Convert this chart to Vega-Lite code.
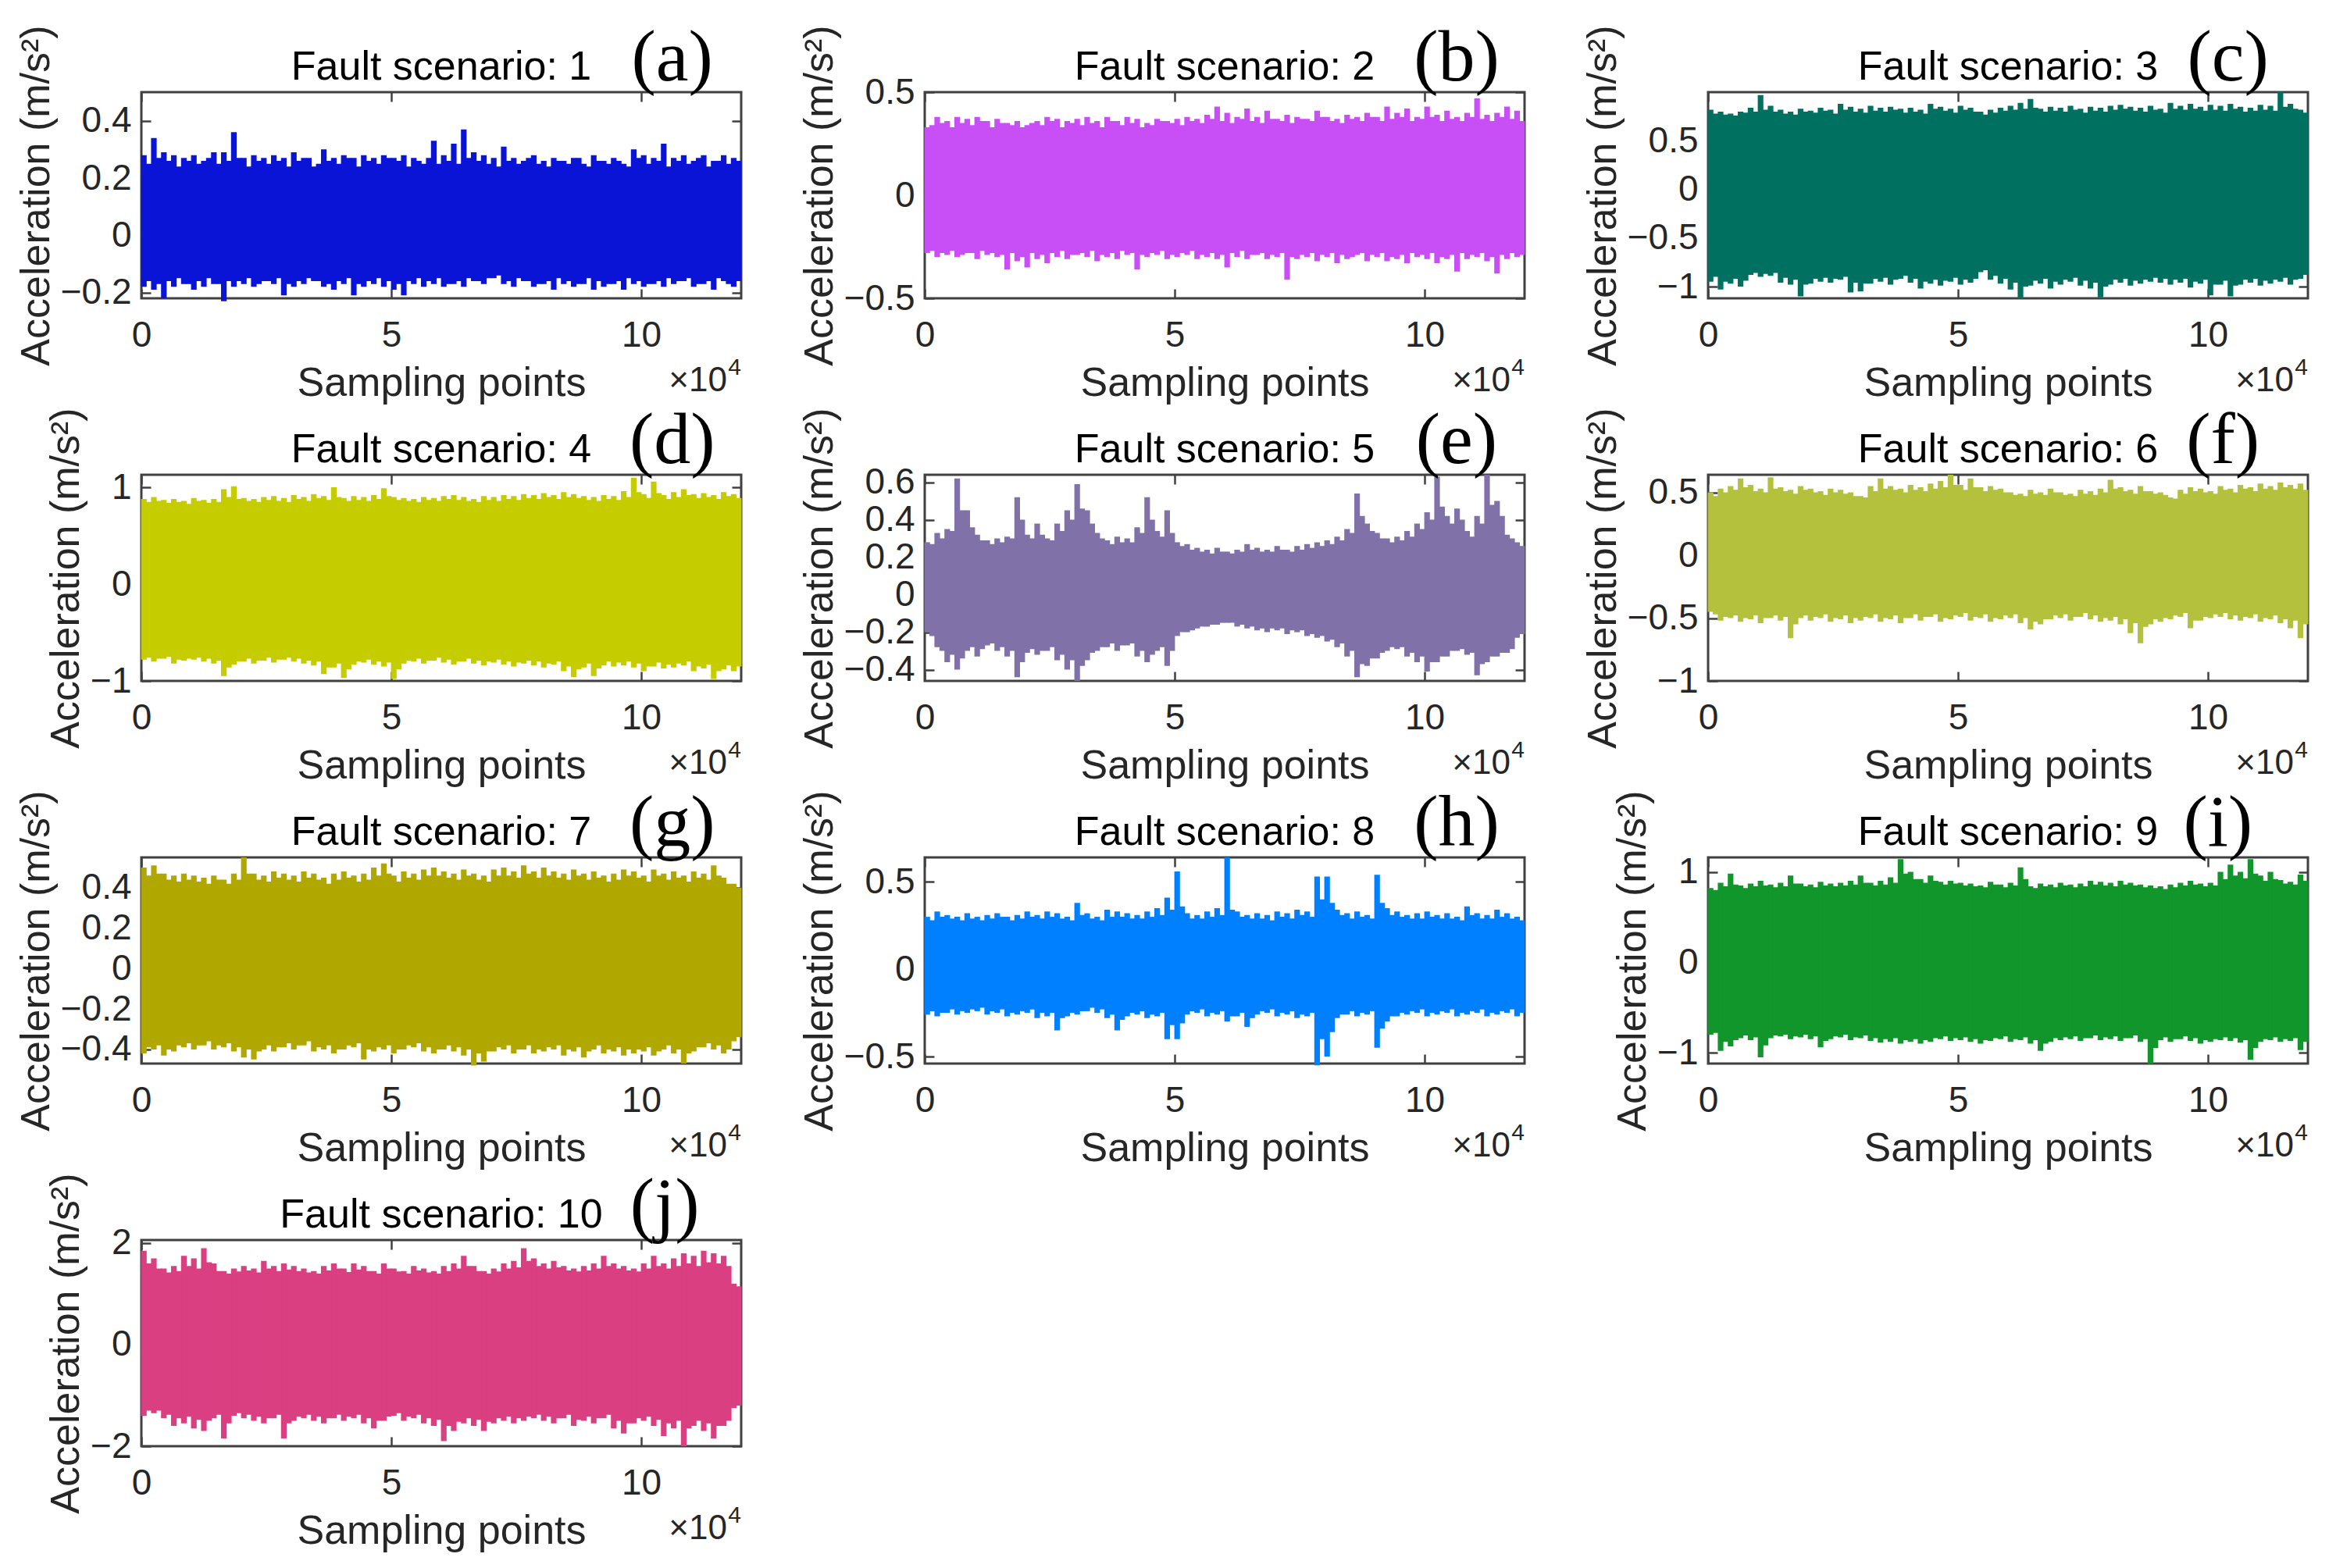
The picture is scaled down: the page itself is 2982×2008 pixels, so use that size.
{
"$schema":"https://vega.github.io/schema/vega-lite/v6.json",
"background":"white",
"padding":{"left":18,"top":26,"right":0,"bottom":0},
"columns":3,
"spacing":{"row":226,"column":235},
"bounds":"flush",
"config":{
"view":{"stroke":"#404040","strokeWidth":3},
"axis":{"grid":false,"domain":false,"tickColor":"#404040","tickWidth":2.5,"tickSize":-12,"labelFont":"Liberation Sans","labelFontSize":46,"labelColor":"#262626","titleFont":"Liberation Sans","titleFontSize":52,"titleFontWeight":"normal","titleColor":"#262626","labelFlush":false,"labelOverlap":false,"labelBound":false},
"axisX":{"labelPadding":37,"titlePadding":13,"format":"d"},
"axisY":{"labelPadding":25,"titlePadding":4,"format":"~g"},
"rule":{"strokeWidth":7.2,"strokeCap":"butt"},
"text":{"baseline":"alphabetic"}
},
"datasets":{
"d1":[{"x":0.1,"h":0.28,"l":-0.18,"a":0.25,"b":-0.16},{"x":0.3,"h":0.34,"l":-0.19,"a":0.27,"b":-0.17},{"x":0.5,"h":0.29,"l":-0.22,"a":0.26,"b":-0.16},{"x":0.7,"h":0.28,"l":-0.18,"a":0.24,"b":-0.15},{"x":0.9,"h":0.27,"l":-0.17,"a":0.26,"b":-0.17},{"x":1.1,"h":0.28,"l":-0.19,"a":0.25,"b":-0.16},{"x":1.3,"h":0.26,"l":-0.18,"a":0.27,"b":-0.15},{"x":1.5,"h":0.29,"l":-0.17,"a":0.25,"b":-0.17},{"x":1.7,"h":0.29,"l":-0.23,"a":0.26,"b":-0.16},{"x":1.9,"h":0.36,"l":-0.18,"a":0.27,"b":-0.16},{"x":2.1,"h":0.27,"l":-0.17,"a":0.24,"b":-0.15},{"x":2.3,"h":0.28,"l":-0.18,"a":0.26,"b":-0.17},{"x":2.5,"h":0.27,"l":-0.16,"a":0.25,"b":-0.16},{"x":2.7,"h":0.28,"l":-0.17,"a":0.26,"b":-0.15},{"x":2.9,"h":0.27,"l":-0.21,"a":0.24,"b":-0.17},{"x":3.1,"h":0.29,"l":-0.18,"a":0.26,"b":-0.16},{"x":3.3,"h":0.27,"l":-0.17,"a":0.27,"b":-0.15},{"x":3.5,"h":0.24,"l":-0.16,"a":0.25,"b":-0.16},{"x":3.7,"h":0.3,"l":-0.18,"a":0.26,"b":-0.17},{"x":3.9,"h":0.27,"l":-0.19,"a":0.25,"b":-0.16},{"x":4.1,"h":0.28,"l":-0.17,"a":0.27,"b":-0.15},{"x":4.3,"h":0.27,"l":-0.21,"a":0.24,"b":-0.17},{"x":4.5,"h":0.28,"l":-0.18,"a":0.26,"b":-0.16},{"x":4.7,"h":0.27,"l":-0.17,"a":0.25,"b":-0.15},{"x":4.9,"h":0.28,"l":-0.18,"a":0.27,"b":-0.16},{"x":5.1,"h":0.27,"l":-0.19,"a":0.26,"b":-0.17},{"x":5.3,"h":0.28,"l":-0.21,"a":0.24,"b":-0.16},{"x":5.5,"h":0.27,"l":-0.17,"a":0.26,"b":-0.15},{"x":5.7,"h":0.25,"l":-0.18,"a":0.27,"b":-0.16},{"x":5.9,"h":0.33,"l":-0.17,"a":0.25,"b":-0.15},{"x":6.1,"h":0.28,"l":-0.18,"a":0.26,"b":-0.17},{"x":6.3,"h":0.32,"l":-0.17,"a":0.25,"b":-0.16},{"x":6.5,"h":0.37,"l":-0.18,"a":0.27,"b":-0.15},{"x":6.7,"h":0.29,"l":-0.16,"a":0.26,"b":-0.16},{"x":6.9,"h":0.28,"l":-0.17,"a":0.25,"b":-0.15},{"x":7.1,"h":0.27,"l":-0.15,"a":0.24,"b":-0.14},{"x":7.3,"h":0.31,"l":-0.17,"a":0.26,"b":-0.16},{"x":7.5,"h":0.27,"l":-0.18,"a":0.25,"b":-0.15},{"x":7.7,"h":0.26,"l":-0.16,"a":0.27,"b":-0.16},{"x":7.9,"h":0.28,"l":-0.18,"a":0.25,"b":-0.17},{"x":8.1,"h":0.26,"l":-0.17,"a":0.24,"b":-0.16},{"x":8.3,"h":0.27,"l":-0.19,"a":0.26,"b":-0.15},{"x":8.5,"h":0.26,"l":-0.17,"a":0.25,"b":-0.16},{"x":8.7,"h":0.27,"l":-0.18,"a":0.27,"b":-0.17},{"x":8.9,"h":0.25,"l":-0.17,"a":0.24,"b":-0.15},{"x":9.1,"h":0.28,"l":-0.19,"a":0.26,"b":-0.16},{"x":9.3,"h":0.26,"l":-0.18,"a":0.25,"b":-0.17},{"x":9.5,"h":0.27,"l":-0.17,"a":0.26,"b":-0.16},{"x":9.7,"h":0.25,"l":-0.19,"a":0.24,"b":-0.15},{"x":9.9,"h":0.3,"l":-0.17,"a":0.27,"b":-0.16},{"x":10.1,"h":0.28,"l":-0.18,"a":0.25,"b":-0.17},{"x":10.3,"h":0.27,"l":-0.17,"a":0.26,"b":-0.16},{"x":10.5,"h":0.32,"l":-0.18,"a":0.24,"b":-0.15},{"x":10.7,"h":0.27,"l":-0.17,"a":0.26,"b":-0.16},{"x":10.9,"h":0.28,"l":-0.16,"a":0.25,"b":-0.15},{"x":11.1,"h":0.26,"l":-0.18,"a":0.27,"b":-0.17},{"x":11.3,"h":0.28,"l":-0.17,"a":0.24,"b":-0.16},{"x":11.5,"h":0.26,"l":-0.19,"a":0.26,"b":-0.15},{"x":11.7,"h":0.28,"l":-0.16,"a":0.25,"b":-0.17},{"x":11.9,"h":0.27,"l":-0.18,"a":0.26,"b":-0.16}],
"d2":[{"x":0.1,"h":0.33,"l":-0.28,"a":0.34,"b":-0.27},{"x":0.3,"h":0.38,"l":-0.3,"a":0.35,"b":-0.28},{"x":0.5,"h":0.36,"l":-0.29,"a":0.33,"b":-0.27},{"x":0.7,"h":0.38,"l":-0.3,"a":0.35,"b":-0.29},{"x":0.9,"h":0.37,"l":-0.28,"a":0.34,"b":-0.28},{"x":1.1,"h":0.38,"l":-0.31,"a":0.36,"b":-0.27},{"x":1.3,"h":0.36,"l":-0.29,"a":0.33,"b":-0.28},{"x":1.5,"h":0.37,"l":-0.3,"a":0.35,"b":-0.29},{"x":1.7,"h":0.35,"l":-0.36,"a":0.34,"b":-0.28},{"x":1.9,"h":0.36,"l":-0.32,"a":0.33,"b":-0.3},{"x":2.1,"h":0.34,"l":-0.35,"a":0.35,"b":-0.28},{"x":2.3,"h":0.36,"l":-0.31,"a":0.34,"b":-0.29},{"x":2.5,"h":0.38,"l":-0.33,"a":0.36,"b":-0.28},{"x":2.7,"h":0.37,"l":-0.3,"a":0.33,"b":-0.27},{"x":2.9,"h":0.36,"l":-0.31,"a":0.35,"b":-0.29},{"x":3.1,"h":0.37,"l":-0.29,"a":0.34,"b":-0.28},{"x":3.3,"h":0.38,"l":-0.3,"a":0.35,"b":-0.27},{"x":3.5,"h":0.36,"l":-0.32,"a":0.33,"b":-0.29},{"x":3.7,"h":0.38,"l":-0.3,"a":0.36,"b":-0.28},{"x":3.9,"h":0.36,"l":-0.31,"a":0.34,"b":-0.27},{"x":4.1,"h":0.38,"l":-0.29,"a":0.35,"b":-0.28},{"x":4.3,"h":0.37,"l":-0.36,"a":0.33,"b":-0.29},{"x":4.5,"h":0.35,"l":-0.3,"a":0.34,"b":-0.28},{"x":4.7,"h":0.37,"l":-0.29,"a":0.36,"b":-0.27},{"x":4.9,"h":0.36,"l":-0.31,"a":0.35,"b":-0.29},{"x":5.1,"h":0.37,"l":-0.3,"a":0.34,"b":-0.28},{"x":5.3,"h":0.38,"l":-0.29,"a":0.36,"b":-0.27},{"x":5.5,"h":0.37,"l":-0.31,"a":0.35,"b":-0.29},{"x":5.7,"h":0.39,"l":-0.3,"a":0.37,"b":-0.28},{"x":5.9,"h":0.43,"l":-0.31,"a":0.36,"b":-0.29},{"x":6.1,"h":0.4,"l":-0.35,"a":0.35,"b":-0.28},{"x":6.3,"h":0.38,"l":-0.3,"a":0.37,"b":-0.27},{"x":6.5,"h":0.42,"l":-0.31,"a":0.36,"b":-0.29},{"x":6.7,"h":0.38,"l":-0.29,"a":0.35,"b":-0.28},{"x":6.9,"h":0.41,"l":-0.31,"a":0.37,"b":-0.29},{"x":7.1,"h":0.37,"l":-0.3,"a":0.36,"b":-0.28},{"x":7.3,"h":0.39,"l":-0.41,"a":0.35,"b":-0.3},{"x":7.5,"h":0.38,"l":-0.31,"a":0.37,"b":-0.29},{"x":7.7,"h":0.37,"l":-0.3,"a":0.36,"b":-0.28},{"x":7.9,"h":0.41,"l":-0.32,"a":0.38,"b":-0.29},{"x":8.1,"h":0.38,"l":-0.3,"a":0.36,"b":-0.28},{"x":8.3,"h":0.37,"l":-0.33,"a":0.35,"b":-0.29},{"x":8.5,"h":0.39,"l":-0.31,"a":0.37,"b":-0.3},{"x":8.7,"h":0.38,"l":-0.29,"a":0.36,"b":-0.28},{"x":8.9,"h":0.4,"l":-0.32,"a":0.38,"b":-0.29},{"x":9.1,"h":0.38,"l":-0.3,"a":0.36,"b":-0.28},{"x":9.3,"h":0.43,"l":-0.32,"a":0.37,"b":-0.3},{"x":9.5,"h":0.4,"l":-0.31,"a":0.38,"b":-0.29},{"x":9.7,"h":0.42,"l":-0.33,"a":0.36,"b":-0.28},{"x":9.9,"h":0.38,"l":-0.3,"a":0.37,"b":-0.29},{"x":10.1,"h":0.43,"l":-0.31,"a":0.38,"b":-0.28},{"x":10.3,"h":0.39,"l":-0.33,"a":0.36,"b":-0.3},{"x":10.5,"h":0.41,"l":-0.31,"a":0.37,"b":-0.29},{"x":10.7,"h":0.38,"l":-0.37,"a":0.36,"b":-0.28},{"x":10.9,"h":0.4,"l":-0.31,"a":0.38,"b":-0.29},{"x":11.1,"h":0.47,"l":-0.3,"a":0.37,"b":-0.28},{"x":11.3,"h":0.39,"l":-0.32,"a":0.36,"b":-0.3},{"x":11.5,"h":0.4,"l":-0.38,"a":0.38,"b":-0.29},{"x":11.7,"h":0.43,"l":-0.31,"a":0.37,"b":-0.28},{"x":11.9,"h":0.41,"l":-0.3,"a":0.36,"b":-0.29}],
"d3":[{"x":0.1,"h":0.82,"l":-0.95,"a":0.78,"b":-0.9},{"x":0.3,"h":0.8,"l":-1.03,"a":0.77,"b":-0.95},{"x":0.5,"h":0.78,"l":-0.97,"a":0.76,"b":-0.92},{"x":0.7,"h":0.8,"l":-1.0,"a":0.79,"b":-0.94},{"x":0.9,"h":0.84,"l":-0.88,"a":0.8,"b":-0.86},{"x":1.1,"h":0.97,"l":-0.9,"a":0.82,"b":-0.87},{"x":1.3,"h":0.86,"l":-0.89,"a":0.8,"b":-0.86},{"x":1.5,"h":0.82,"l":-0.96,"a":0.78,"b":-0.91},{"x":1.7,"h":0.8,"l":-0.98,"a":0.77,"b":-0.93},{"x":1.9,"h":0.83,"l":-1.1,"a":0.8,"b":-0.98},{"x":2.1,"h":0.81,"l":-0.97,"a":0.79,"b":-0.92},{"x":2.3,"h":0.84,"l":-0.95,"a":0.81,"b":-0.91},{"x":2.5,"h":0.82,"l":-0.96,"a":0.78,"b":-0.92},{"x":2.7,"h":0.88,"l":-0.93,"a":0.82,"b":-0.9},{"x":2.9,"h":0.85,"l":-1.06,"a":0.8,"b":-0.96},{"x":3.1,"h":0.83,"l":-1.05,"a":0.79,"b":-0.97},{"x":3.3,"h":0.86,"l":-0.97,"a":0.81,"b":-0.92},{"x":3.5,"h":0.84,"l":-0.95,"a":0.8,"b":-0.91},{"x":3.7,"h":0.85,"l":-0.98,"a":0.82,"b":-0.93},{"x":3.9,"h":0.83,"l":-0.92,"a":0.79,"b":-0.89},{"x":4.1,"h":0.84,"l":-0.96,"a":0.8,"b":-0.92},{"x":4.3,"h":0.82,"l":-1.02,"a":0.78,"b":-0.95},{"x":4.5,"h":0.88,"l":-0.97,"a":0.83,"b":-0.93},{"x":4.7,"h":0.85,"l":-0.99,"a":0.81,"b":-0.94},{"x":4.9,"h":0.83,"l":-0.95,"a":0.79,"b":-0.91},{"x":5.1,"h":0.86,"l":-0.98,"a":0.82,"b":-0.93},{"x":5.3,"h":0.84,"l":-0.96,"a":0.8,"b":-0.92},{"x":5.5,"h":0.8,"l":-0.85,"a":0.77,"b":-0.83},{"x":5.7,"h":0.82,"l":-0.93,"a":0.79,"b":-0.89},{"x":5.9,"h":0.84,"l":-0.97,"a":0.81,"b":-0.92},{"x":6.1,"h":0.86,"l":-1.03,"a":0.82,"b":-0.96},{"x":6.3,"h":0.89,"l":-1.12,"a":0.83,"b":-1.0},{"x":6.5,"h":0.93,"l":-0.99,"a":0.84,"b":-0.94},{"x":6.7,"h":0.83,"l":-0.97,"a":0.8,"b":-0.92},{"x":6.9,"h":0.85,"l":-1.02,"a":0.81,"b":-0.95},{"x":7.1,"h":0.84,"l":-0.98,"a":0.8,"b":-0.93},{"x":7.3,"h":0.86,"l":-0.95,"a":0.82,"b":-0.91},{"x":7.5,"h":0.83,"l":-0.99,"a":0.79,"b":-0.94},{"x":7.7,"h":0.85,"l":-1.02,"a":0.81,"b":-0.96},{"x":7.9,"h":0.84,"l":-1.11,"a":0.8,"b":-1.0},{"x":8.1,"h":0.86,"l":-0.98,"a":0.82,"b":-0.93},{"x":8.3,"h":0.87,"l":-0.96,"a":0.83,"b":-0.92},{"x":8.5,"h":0.85,"l":-0.99,"a":0.81,"b":-0.94},{"x":8.7,"h":0.84,"l":-0.97,"a":0.8,"b":-0.93},{"x":8.9,"h":0.86,"l":-0.95,"a":0.82,"b":-0.91},{"x":9.1,"h":0.83,"l":-0.96,"a":0.79,"b":-0.92},{"x":9.3,"h":0.89,"l":-0.98,"a":0.83,"b":-0.93},{"x":9.5,"h":0.86,"l":-0.96,"a":0.82,"b":-0.92},{"x":9.7,"h":0.88,"l":-1.01,"a":0.83,"b":-0.95},{"x":9.9,"h":0.85,"l":-0.97,"a":0.81,"b":-0.93},{"x":10.1,"h":0.87,"l":-1.09,"a":0.82,"b":-0.98},{"x":10.3,"h":0.86,"l":-0.98,"a":0.81,"b":-0.94},{"x":10.5,"h":0.88,"l":-1.1,"a":0.83,"b":-0.99},{"x":10.7,"h":0.85,"l":-0.98,"a":0.8,"b":-0.93},{"x":10.9,"h":0.84,"l":-0.96,"a":0.81,"b":-0.92},{"x":11.1,"h":0.87,"l":-0.99,"a":0.82,"b":-0.94},{"x":11.3,"h":0.86,"l":-0.97,"a":0.81,"b":-0.93},{"x":11.5,"h":1.0,"l":-0.95,"a":0.85,"b":-0.91},{"x":11.7,"h":0.88,"l":-0.98,"a":0.83,"b":-0.93},{"x":11.9,"h":0.82,"l":-0.92,"a":0.79,"b":-0.88}],
"d4":[{"x":0.1,"h":0.88,"l":-0.78,"a":0.85,"b":-0.76},{"x":0.3,"h":0.9,"l":-0.8,"a":0.86,"b":-0.77},{"x":0.5,"h":0.87,"l":-0.77,"a":0.84,"b":-0.75},{"x":0.7,"h":0.88,"l":-0.82,"a":0.85,"b":-0.78},{"x":0.9,"h":0.86,"l":-0.79,"a":0.83,"b":-0.77},{"x":1.1,"h":0.89,"l":-0.78,"a":0.86,"b":-0.76},{"x":1.3,"h":0.87,"l":-0.8,"a":0.84,"b":-0.77},{"x":1.5,"h":0.88,"l":-0.82,"a":0.85,"b":-0.79},{"x":1.7,"h":0.98,"l":-0.95,"a":0.9,"b":-0.86},{"x":1.9,"h":1.01,"l":-0.83,"a":0.88,"b":-0.8},{"x":2.1,"h":0.89,"l":-0.8,"a":0.86,"b":-0.77},{"x":2.3,"h":0.88,"l":-0.82,"a":0.85,"b":-0.79},{"x":2.5,"h":0.9,"l":-0.79,"a":0.87,"b":-0.76},{"x":2.7,"h":0.91,"l":-0.81,"a":0.86,"b":-0.78},{"x":2.9,"h":0.89,"l":-0.78,"a":0.85,"b":-0.76},{"x":3.1,"h":0.92,"l":-0.8,"a":0.88,"b":-0.77},{"x":3.3,"h":0.9,"l":-0.82,"a":0.86,"b":-0.79},{"x":3.5,"h":0.93,"l":-0.84,"a":0.89,"b":-0.8},{"x":3.7,"h":0.91,"l":-0.93,"a":0.87,"b":-0.86},{"x":3.9,"h":1.0,"l":-0.86,"a":0.9,"b":-0.82},{"x":4.1,"h":0.89,"l":-0.97,"a":0.86,"b":-0.88},{"x":4.3,"h":0.91,"l":-0.83,"a":0.87,"b":-0.8},{"x":4.5,"h":0.9,"l":-0.81,"a":0.86,"b":-0.78},{"x":4.7,"h":0.92,"l":-0.83,"a":0.88,"b":-0.8},{"x":4.9,"h":0.99,"l":-0.85,"a":0.91,"b":-0.81},{"x":5.1,"h":0.9,"l":-0.98,"a":0.87,"b":-0.88},{"x":5.3,"h":0.89,"l":-0.82,"a":0.86,"b":-0.79},{"x":5.5,"h":0.88,"l":-0.8,"a":0.85,"b":-0.77},{"x":5.7,"h":0.9,"l":-0.82,"a":0.87,"b":-0.79},{"x":5.9,"h":0.89,"l":-0.79,"a":0.86,"b":-0.76},{"x":6.1,"h":0.91,"l":-0.81,"a":0.88,"b":-0.78},{"x":6.3,"h":0.92,"l":-0.83,"a":0.87,"b":-0.8},{"x":6.5,"h":0.9,"l":-0.8,"a":0.86,"b":-0.77},{"x":6.7,"h":0.88,"l":-0.82,"a":0.85,"b":-0.79},{"x":6.9,"h":0.91,"l":-0.84,"a":0.87,"b":-0.8},{"x":7.1,"h":0.9,"l":-0.81,"a":0.86,"b":-0.78},{"x":7.3,"h":0.92,"l":-0.83,"a":0.88,"b":-0.8},{"x":7.5,"h":0.91,"l":-0.85,"a":0.87,"b":-0.81},{"x":7.7,"h":0.93,"l":-0.82,"a":0.89,"b":-0.79},{"x":7.9,"h":0.92,"l":-0.84,"a":0.88,"b":-0.8},{"x":8.1,"h":0.94,"l":-0.86,"a":0.9,"b":-0.82},{"x":8.3,"h":0.92,"l":-0.83,"a":0.88,"b":-0.8},{"x":8.5,"h":0.95,"l":-0.9,"a":0.9,"b":-0.85},{"x":8.7,"h":0.93,"l":-0.96,"a":0.89,"b":-0.88},{"x":8.9,"h":0.91,"l":-0.86,"a":0.87,"b":-0.82},{"x":9.1,"h":0.9,"l":-0.95,"a":0.86,"b":-0.87},{"x":9.3,"h":0.92,"l":-0.84,"a":0.88,"b":-0.8},{"x":9.5,"h":0.91,"l":-0.85,"a":0.87,"b":-0.81},{"x":9.7,"h":0.96,"l":-0.84,"a":0.9,"b":-0.8},{"x":9.9,"h":1.1,"l":-0.86,"a":0.95,"b":-0.82},{"x":10.1,"h":0.93,"l":-0.9,"a":0.89,"b":-0.85},{"x":10.3,"h":1.06,"l":-0.85,"a":0.94,"b":-0.81},{"x":10.5,"h":0.92,"l":-0.87,"a":0.88,"b":-0.83},{"x":10.7,"h":0.95,"l":-0.86,"a":0.9,"b":-0.82},{"x":10.9,"h":0.98,"l":-0.84,"a":0.92,"b":-0.8},{"x":11.1,"h":0.93,"l":-0.9,"a":0.89,"b":-0.85},{"x":11.3,"h":0.94,"l":-0.87,"a":0.9,"b":-0.83},{"x":11.5,"h":0.92,"l":-0.98,"a":0.88,"b":-0.9},{"x":11.7,"h":0.95,"l":-0.88,"a":0.91,"b":-0.84},{"x":11.9,"h":0.93,"l":-0.9,"a":0.89,"b":-0.85}],
"d5":[{"x":0.1,"h":0.28,"l":-0.2,"a":0.27,"b":-0.22},{"x":0.3,"h":0.33,"l":-0.28,"a":0.3,"b":-0.3},{"x":0.5,"h":0.35,"l":-0.36,"a":0.34,"b":-0.32},{"x":0.7,"h":0.62,"l":-0.4,"a":0.45,"b":-0.34},{"x":0.9,"h":0.45,"l":-0.3,"a":0.36,"b":-0.28},{"x":1.1,"h":0.32,"l":-0.33,"a":0.29,"b":-0.29},{"x":1.3,"h":0.29,"l":-0.27,"a":0.27,"b":-0.26},{"x":1.5,"h":0.3,"l":-0.3,"a":0.28,"b":-0.28},{"x":1.7,"h":0.31,"l":-0.33,"a":0.3,"b":-0.3},{"x":1.9,"h":0.52,"l":-0.44,"a":0.4,"b":-0.36},{"x":2.1,"h":0.32,"l":-0.31,"a":0.3,"b":-0.29},{"x":2.3,"h":0.38,"l":-0.32,"a":0.32,"b":-0.3},{"x":2.5,"h":0.3,"l":-0.3,"a":0.29,"b":-0.28},{"x":2.7,"h":0.38,"l":-0.35,"a":0.34,"b":-0.32},{"x":2.9,"h":0.45,"l":-0.4,"a":0.4,"b":-0.35},{"x":3.1,"h":0.59,"l":-0.46,"a":0.46,"b":-0.38},{"x":3.3,"h":0.45,"l":-0.35,"a":0.38,"b":-0.31},{"x":3.5,"h":0.33,"l":-0.3,"a":0.3,"b":-0.28},{"x":3.7,"h":0.29,"l":-0.28,"a":0.27,"b":-0.26},{"x":3.9,"h":0.31,"l":-0.3,"a":0.28,"b":-0.27},{"x":4.1,"h":0.3,"l":-0.27,"a":0.28,"b":-0.26},{"x":4.3,"h":0.36,"l":-0.33,"a":0.33,"b":-0.3},{"x":4.5,"h":0.52,"l":-0.36,"a":0.4,"b":-0.32},{"x":4.7,"h":0.34,"l":-0.3,"a":0.31,"b":-0.28},{"x":4.9,"h":0.45,"l":-0.38,"a":0.33,"b":-0.3},{"x":5.1,"h":0.28,"l":-0.22,"a":0.26,"b":-0.2},{"x":5.3,"h":0.27,"l":-0.2,"a":0.24,"b":-0.19},{"x":5.5,"h":0.25,"l":-0.18,"a":0.23,"b":-0.17},{"x":5.7,"h":0.24,"l":-0.17,"a":0.22,"b":-0.16},{"x":5.9,"h":0.25,"l":-0.16,"a":0.23,"b":-0.15},{"x":6.1,"h":0.23,"l":-0.15,"a":0.22,"b":-0.15},{"x":6.3,"h":0.24,"l":-0.17,"a":0.23,"b":-0.16},{"x":6.5,"h":0.27,"l":-0.18,"a":0.24,"b":-0.17},{"x":6.7,"h":0.25,"l":-0.19,"a":0.23,"b":-0.18},{"x":6.9,"h":0.24,"l":-0.2,"a":0.23,"b":-0.18},{"x":7.1,"h":0.26,"l":-0.19,"a":0.24,"b":-0.18},{"x":7.3,"h":0.24,"l":-0.21,"a":0.23,"b":-0.19},{"x":7.5,"h":0.26,"l":-0.2,"a":0.24,"b":-0.19},{"x":7.7,"h":0.27,"l":-0.22,"a":0.25,"b":-0.21},{"x":7.9,"h":0.28,"l":-0.23,"a":0.26,"b":-0.22},{"x":8.1,"h":0.29,"l":-0.25,"a":0.27,"b":-0.24},{"x":8.3,"h":0.31,"l":-0.28,"a":0.29,"b":-0.26},{"x":8.5,"h":0.35,"l":-0.33,"a":0.33,"b":-0.3},{"x":8.7,"h":0.54,"l":-0.44,"a":0.42,"b":-0.37},{"x":8.9,"h":0.38,"l":-0.38,"a":0.34,"b":-0.34},{"x":9.1,"h":0.33,"l":-0.34,"a":0.3,"b":-0.31},{"x":9.3,"h":0.3,"l":-0.3,"a":0.28,"b":-0.28},{"x":9.5,"h":0.31,"l":-0.29,"a":0.29,"b":-0.28},{"x":9.7,"h":0.34,"l":-0.33,"a":0.31,"b":-0.31},{"x":9.9,"h":0.38,"l":-0.36,"a":0.35,"b":-0.33},{"x":10.1,"h":0.44,"l":-0.41,"a":0.4,"b":-0.36},{"x":10.3,"h":0.63,"l":-0.36,"a":0.47,"b":-0.33},{"x":10.5,"h":0.42,"l":-0.33,"a":0.38,"b":-0.3},{"x":10.7,"h":0.46,"l":-0.3,"a":0.4,"b":-0.29},{"x":10.9,"h":0.34,"l":-0.32,"a":0.31,"b":-0.31},{"x":11.1,"h":0.42,"l":-0.43,"a":0.38,"b":-0.37},{"x":11.3,"h":0.64,"l":-0.36,"a":0.48,"b":-0.33},{"x":11.5,"h":0.5,"l":-0.33,"a":0.42,"b":-0.31},{"x":11.7,"h":0.32,"l":-0.31,"a":0.3,"b":-0.29},{"x":11.9,"h":0.28,"l":-0.23,"a":0.26,"b":-0.21}],
"d6":[{"x":0.1,"h":0.5,"l":-0.45,"a":0.47,"b":-0.47},{"x":0.3,"h":0.53,"l":-0.52,"a":0.5,"b":-0.49},{"x":0.5,"h":0.55,"l":-0.5,"a":0.52,"b":-0.48},{"x":0.7,"h":0.61,"l":-0.53,"a":0.54,"b":-0.5},{"x":0.9,"h":0.56,"l":-0.51,"a":0.51,"b":-0.48},{"x":1.1,"h":0.53,"l":-0.54,"a":0.5,"b":-0.5},{"x":1.3,"h":0.62,"l":-0.5,"a":0.53,"b":-0.48},{"x":1.5,"h":0.54,"l":-0.52,"a":0.51,"b":-0.49},{"x":1.7,"h":0.52,"l":-0.66,"a":0.49,"b":-0.55},{"x":1.9,"h":0.55,"l":-0.5,"a":0.52,"b":-0.48},{"x":2.1,"h":0.53,"l":-0.52,"a":0.5,"b":-0.49},{"x":2.3,"h":0.51,"l":-0.5,"a":0.48,"b":-0.47},{"x":2.5,"h":0.53,"l":-0.53,"a":0.5,"b":-0.5},{"x":2.7,"h":0.52,"l":-0.51,"a":0.49,"b":-0.48},{"x":2.9,"h":0.5,"l":-0.54,"a":0.47,"b":-0.5},{"x":3.1,"h":0.47,"l":-0.52,"a":0.46,"b":-0.49},{"x":3.3,"h":0.55,"l":-0.5,"a":0.51,"b":-0.47},{"x":3.5,"h":0.61,"l":-0.53,"a":0.53,"b":-0.5},{"x":3.7,"h":0.55,"l":-0.51,"a":0.52,"b":-0.48},{"x":3.9,"h":0.53,"l":-0.54,"a":0.5,"b":-0.5},{"x":4.1,"h":0.56,"l":-0.5,"a":0.52,"b":-0.47},{"x":4.3,"h":0.54,"l":-0.52,"a":0.51,"b":-0.49},{"x":4.5,"h":0.57,"l":-0.49,"a":0.53,"b":-0.47},{"x":4.7,"h":0.59,"l":-0.53,"a":0.54,"b":-0.5},{"x":4.9,"h":0.64,"l":-0.51,"a":0.56,"b":-0.48},{"x":5.1,"h":0.56,"l":-0.49,"a":0.52,"b":-0.46},{"x":5.3,"h":0.61,"l":-0.52,"a":0.54,"b":-0.49},{"x":5.5,"h":0.54,"l":-0.5,"a":0.51,"b":-0.47},{"x":5.7,"h":0.55,"l":-0.53,"a":0.52,"b":-0.5},{"x":5.9,"h":0.53,"l":-0.51,"a":0.5,"b":-0.48},{"x":6.1,"h":0.5,"l":-0.5,"a":0.48,"b":-0.47},{"x":6.3,"h":0.49,"l":-0.54,"a":0.47,"b":-0.5},{"x":6.5,"h":0.52,"l":-0.59,"a":0.49,"b":-0.53},{"x":6.7,"h":0.5,"l":-0.55,"a":0.48,"b":-0.51},{"x":6.9,"h":0.53,"l":-0.51,"a":0.5,"b":-0.48},{"x":7.1,"h":0.5,"l":-0.5,"a":0.48,"b":-0.47},{"x":7.3,"h":0.49,"l":-0.52,"a":0.47,"b":-0.49},{"x":7.5,"h":0.52,"l":-0.49,"a":0.49,"b":-0.46},{"x":7.7,"h":0.51,"l":-0.51,"a":0.48,"b":-0.48},{"x":7.9,"h":0.53,"l":-0.53,"a":0.5,"b":-0.5},{"x":8.1,"h":0.6,"l":-0.52,"a":0.53,"b":-0.49},{"x":8.3,"h":0.54,"l":-0.55,"a":0.51,"b":-0.51},{"x":8.5,"h":0.52,"l":-0.62,"a":0.49,"b":-0.54},{"x":8.7,"h":0.55,"l":-0.7,"a":0.51,"b":-0.57},{"x":8.9,"h":0.51,"l":-0.55,"a":0.49,"b":-0.51},{"x":9.1,"h":0.5,"l":-0.53,"a":0.48,"b":-0.5},{"x":9.3,"h":0.46,"l":-0.51,"a":0.45,"b":-0.48},{"x":9.5,"h":0.52,"l":-0.49,"a":0.49,"b":-0.46},{"x":9.7,"h":0.54,"l":-0.58,"a":0.51,"b":-0.52},{"x":9.9,"h":0.53,"l":-0.52,"a":0.5,"b":-0.49},{"x":10.1,"h":0.51,"l":-0.5,"a":0.49,"b":-0.47},{"x":10.3,"h":0.55,"l":-0.49,"a":0.52,"b":-0.46},{"x":10.5,"h":0.53,"l":-0.51,"a":0.5,"b":-0.48},{"x":10.7,"h":0.56,"l":-0.52,"a":0.53,"b":-0.49},{"x":10.9,"h":0.54,"l":-0.5,"a":0.51,"b":-0.47},{"x":11.1,"h":0.57,"l":-0.53,"a":0.53,"b":-0.5},{"x":11.3,"h":0.55,"l":-0.51,"a":0.52,"b":-0.48},{"x":11.5,"h":0.58,"l":-0.54,"a":0.54,"b":-0.51},{"x":11.7,"h":0.56,"l":-0.58,"a":0.53,"b":-0.52},{"x":11.9,"h":0.57,"l":-0.66,"a":0.52,"b":-0.55}],
"d7":[{"x":0.1,"h":0.5,"l":-0.42,"a":0.46,"b":-0.39},{"x":0.3,"h":0.51,"l":-0.4,"a":0.47,"b":-0.38},{"x":0.5,"h":0.47,"l":-0.43,"a":0.44,"b":-0.4},{"x":0.7,"h":0.46,"l":-0.41,"a":0.43,"b":-0.38},{"x":0.9,"h":0.47,"l":-0.39,"a":0.44,"b":-0.37},{"x":1.1,"h":0.46,"l":-0.4,"a":0.43,"b":-0.38},{"x":1.3,"h":0.45,"l":-0.38,"a":0.42,"b":-0.36},{"x":1.5,"h":0.46,"l":-0.4,"a":0.44,"b":-0.38},{"x":1.7,"h":0.44,"l":-0.39,"a":0.42,"b":-0.37},{"x":1.9,"h":0.47,"l":-0.41,"a":0.44,"b":-0.39},{"x":2.1,"h":0.55,"l":-0.44,"a":0.47,"b":-0.4},{"x":2.3,"h":0.47,"l":-0.45,"a":0.44,"b":-0.41},{"x":2.5,"h":0.46,"l":-0.4,"a":0.43,"b":-0.38},{"x":2.7,"h":0.48,"l":-0.41,"a":0.45,"b":-0.39},{"x":2.9,"h":0.47,"l":-0.39,"a":0.44,"b":-0.37},{"x":3.1,"h":0.46,"l":-0.4,"a":0.43,"b":-0.38},{"x":3.3,"h":0.48,"l":-0.38,"a":0.45,"b":-0.36},{"x":3.5,"h":0.47,"l":-0.41,"a":0.44,"b":-0.39},{"x":3.7,"h":0.45,"l":-0.4,"a":0.42,"b":-0.38},{"x":3.9,"h":0.47,"l":-0.42,"a":0.44,"b":-0.4},{"x":4.1,"h":0.48,"l":-0.4,"a":0.45,"b":-0.38},{"x":4.3,"h":0.46,"l":-0.39,"a":0.43,"b":-0.37},{"x":4.5,"h":0.47,"l":-0.45,"a":0.44,"b":-0.4},{"x":4.7,"h":0.5,"l":-0.41,"a":0.46,"b":-0.39},{"x":4.9,"h":0.52,"l":-0.4,"a":0.47,"b":-0.38},{"x":5.1,"h":0.46,"l":-0.42,"a":0.43,"b":-0.4},{"x":5.3,"h":0.48,"l":-0.4,"a":0.45,"b":-0.38},{"x":5.5,"h":0.47,"l":-0.39,"a":0.44,"b":-0.37},{"x":5.7,"h":0.49,"l":-0.41,"a":0.46,"b":-0.39},{"x":5.9,"h":0.5,"l":-0.42,"a":0.46,"b":-0.4},{"x":6.1,"h":0.48,"l":-0.4,"a":0.45,"b":-0.38},{"x":6.3,"h":0.47,"l":-0.41,"a":0.44,"b":-0.39},{"x":6.5,"h":0.49,"l":-0.43,"a":0.46,"b":-0.4},{"x":6.7,"h":0.47,"l":-0.48,"a":0.44,"b":-0.42},{"x":6.9,"h":0.46,"l":-0.46,"a":0.43,"b":-0.41},{"x":7.1,"h":0.49,"l":-0.41,"a":0.46,"b":-0.39},{"x":7.3,"h":0.5,"l":-0.4,"a":0.46,"b":-0.38},{"x":7.5,"h":0.48,"l":-0.42,"a":0.45,"b":-0.4},{"x":7.7,"h":0.51,"l":-0.4,"a":0.47,"b":-0.38},{"x":7.9,"h":0.48,"l":-0.42,"a":0.45,"b":-0.4},{"x":8.1,"h":0.5,"l":-0.41,"a":0.46,"b":-0.39},{"x":8.3,"h":0.48,"l":-0.4,"a":0.45,"b":-0.38},{"x":8.5,"h":0.47,"l":-0.43,"a":0.44,"b":-0.4},{"x":8.7,"h":0.49,"l":-0.41,"a":0.46,"b":-0.39},{"x":8.9,"h":0.47,"l":-0.44,"a":0.44,"b":-0.41},{"x":9.1,"h":0.48,"l":-0.4,"a":0.45,"b":-0.38},{"x":9.3,"h":0.46,"l":-0.42,"a":0.43,"b":-0.4},{"x":9.5,"h":0.47,"l":-0.41,"a":0.44,"b":-0.39},{"x":9.7,"h":0.49,"l":-0.43,"a":0.46,"b":-0.4},{"x":9.9,"h":0.48,"l":-0.42,"a":0.45,"b":-0.4},{"x":10.1,"h":0.46,"l":-0.41,"a":0.43,"b":-0.39},{"x":10.3,"h":0.49,"l":-0.43,"a":0.46,"b":-0.41},{"x":10.5,"h":0.47,"l":-0.4,"a":0.44,"b":-0.38},{"x":10.7,"h":0.48,"l":-0.42,"a":0.45,"b":-0.4},{"x":10.9,"h":0.46,"l":-0.47,"a":0.43,"b":-0.42},{"x":11.1,"h":0.48,"l":-0.41,"a":0.45,"b":-0.39},{"x":11.3,"h":0.47,"l":-0.39,"a":0.44,"b":-0.37},{"x":11.5,"h":0.51,"l":-0.4,"a":0.46,"b":-0.38},{"x":11.7,"h":0.45,"l":-0.42,"a":0.42,"b":-0.4},{"x":11.9,"h":0.42,"l":-0.36,"a":0.4,"b":-0.34}],
"d8":[{"x":0.1,"h":0.3,"l":-0.26,"a":0.28,"b":-0.24},{"x":0.3,"h":0.33,"l":-0.27,"a":0.3,"b":-0.25},{"x":0.5,"h":0.31,"l":-0.25,"a":0.29,"b":-0.23},{"x":0.7,"h":0.3,"l":-0.26,"a":0.28,"b":-0.24},{"x":0.9,"h":0.32,"l":-0.25,"a":0.29,"b":-0.23},{"x":1.1,"h":0.3,"l":-0.24,"a":0.28,"b":-0.22},{"x":1.3,"h":0.31,"l":-0.26,"a":0.29,"b":-0.24},{"x":1.5,"h":0.32,"l":-0.25,"a":0.3,"b":-0.23},{"x":1.7,"h":0.3,"l":-0.27,"a":0.28,"b":-0.25},{"x":1.9,"h":0.31,"l":-0.26,"a":0.29,"b":-0.24},{"x":2.1,"h":0.33,"l":-0.25,"a":0.3,"b":-0.23},{"x":2.3,"h":0.31,"l":-0.28,"a":0.29,"b":-0.25},{"x":2.5,"h":0.33,"l":-0.27,"a":0.3,"b":-0.25},{"x":2.7,"h":0.32,"l":-0.35,"a":0.29,"b":-0.28},{"x":2.9,"h":0.3,"l":-0.27,"a":0.28,"b":-0.25},{"x":3.1,"h":0.38,"l":-0.26,"a":0.31,"b":-0.24},{"x":3.3,"h":0.32,"l":-0.24,"a":0.29,"b":-0.22},{"x":3.5,"h":0.3,"l":-0.25,"a":0.28,"b":-0.23},{"x":3.7,"h":0.34,"l":-0.28,"a":0.3,"b":-0.26},{"x":3.9,"h":0.33,"l":-0.35,"a":0.3,"b":-0.29},{"x":4.1,"h":0.32,"l":-0.27,"a":0.29,"b":-0.25},{"x":4.3,"h":0.31,"l":-0.26,"a":0.29,"b":-0.24},{"x":4.5,"h":0.33,"l":-0.28,"a":0.3,"b":-0.26},{"x":4.7,"h":0.35,"l":-0.27,"a":0.31,"b":-0.25},{"x":4.9,"h":0.41,"l":-0.4,"a":0.34,"b":-0.32},{"x":5.1,"h":0.56,"l":-0.4,"a":0.36,"b":-0.31},{"x":5.3,"h":0.32,"l":-0.26,"a":0.29,"b":-0.24},{"x":5.5,"h":0.31,"l":-0.25,"a":0.29,"b":-0.23},{"x":5.7,"h":0.33,"l":-0.27,"a":0.3,"b":-0.25},{"x":5.9,"h":0.35,"l":-0.26,"a":0.31,"b":-0.24},{"x":6.1,"h":0.64,"l":-0.3,"a":0.34,"b":-0.27},{"x":6.3,"h":0.33,"l":-0.27,"a":0.3,"b":-0.25},{"x":6.5,"h":0.31,"l":-0.33,"a":0.29,"b":-0.28},{"x":6.7,"h":0.32,"l":-0.26,"a":0.29,"b":-0.24},{"x":6.9,"h":0.31,"l":-0.25,"a":0.28,"b":-0.23},{"x":7.1,"h":0.33,"l":-0.27,"a":0.3,"b":-0.25},{"x":7.3,"h":0.32,"l":-0.26,"a":0.29,"b":-0.24},{"x":7.5,"h":0.34,"l":-0.28,"a":0.31,"b":-0.26},{"x":7.7,"h":0.33,"l":-0.27,"a":0.3,"b":-0.25},{"x":7.9,"h":0.53,"l":-0.55,"a":0.4,"b":-0.4},{"x":8.1,"h":0.53,"l":-0.5,"a":0.38,"b":-0.36},{"x":8.3,"h":0.34,"l":-0.28,"a":0.31,"b":-0.26},{"x":8.5,"h":0.32,"l":-0.26,"a":0.29,"b":-0.24},{"x":8.7,"h":0.33,"l":-0.27,"a":0.3,"b":-0.25},{"x":8.9,"h":0.31,"l":-0.26,"a":0.29,"b":-0.24},{"x":9.1,"h":0.54,"l":-0.45,"a":0.38,"b":-0.34},{"x":9.3,"h":0.35,"l":-0.3,"a":0.31,"b":-0.27},{"x":9.5,"h":0.33,"l":-0.27,"a":0.3,"b":-0.25},{"x":9.7,"h":0.31,"l":-0.26,"a":0.29,"b":-0.24},{"x":9.9,"h":0.32,"l":-0.25,"a":0.29,"b":-0.23},{"x":10.1,"h":0.33,"l":-0.27,"a":0.3,"b":-0.25},{"x":10.3,"h":0.31,"l":-0.26,"a":0.29,"b":-0.24},{"x":10.5,"h":0.32,"l":-0.25,"a":0.29,"b":-0.23},{"x":10.7,"h":0.3,"l":-0.27,"a":0.28,"b":-0.25},{"x":10.9,"h":0.36,"l":-0.26,"a":0.31,"b":-0.24},{"x":11.1,"h":0.32,"l":-0.25,"a":0.29,"b":-0.23},{"x":11.3,"h":0.31,"l":-0.27,"a":0.29,"b":-0.25},{"x":11.5,"h":0.34,"l":-0.26,"a":0.3,"b":-0.24},{"x":11.7,"h":0.32,"l":-0.25,"a":0.29,"b":-0.23},{"x":11.9,"h":0.3,"l":-0.27,"a":0.28,"b":-0.25}],
"d9":[{"x":0.1,"h":0.82,"l":-0.8,"a":0.8,"b":-0.78},{"x":0.3,"h":0.88,"l":-0.98,"a":0.84,"b":-0.88},{"x":0.5,"h":0.98,"l":-0.93,"a":0.86,"b":-0.86},{"x":0.7,"h":0.85,"l":-0.84,"a":0.82,"b":-0.81},{"x":0.9,"h":0.87,"l":-0.86,"a":0.84,"b":-0.83},{"x":1.1,"h":0.9,"l":-1.05,"a":0.85,"b":-0.92},{"x":1.3,"h":0.86,"l":-0.84,"a":0.83,"b":-0.81},{"x":1.5,"h":0.88,"l":-0.82,"a":0.84,"b":-0.8},{"x":1.7,"h":0.96,"l":-0.85,"a":0.87,"b":-0.82},{"x":1.9,"h":0.87,"l":-0.83,"a":0.84,"b":-0.8},{"x":2.1,"h":0.86,"l":-0.85,"a":0.83,"b":-0.82},{"x":2.3,"h":0.89,"l":-0.94,"a":0.85,"b":-0.87},{"x":2.5,"h":0.87,"l":-0.85,"a":0.84,"b":-0.82},{"x":2.7,"h":0.88,"l":-0.83,"a":0.85,"b":-0.8},{"x":2.9,"h":0.9,"l":-0.86,"a":0.86,"b":-0.83},{"x":3.1,"h":0.96,"l":-0.84,"a":0.88,"b":-0.81},{"x":3.3,"h":0.88,"l":-0.87,"a":0.85,"b":-0.84},{"x":3.5,"h":0.9,"l":-0.89,"a":0.86,"b":-0.85},{"x":3.7,"h":0.94,"l":-0.88,"a":0.88,"b":-0.84},{"x":3.9,"h":1.14,"l":-0.9,"a":0.98,"b":-0.86},{"x":4.1,"h":1.0,"l":-0.88,"a":0.92,"b":-0.85},{"x":4.3,"h":0.92,"l":-0.9,"a":0.88,"b":-0.86},{"x":4.5,"h":0.96,"l":-0.88,"a":0.9,"b":-0.84},{"x":4.7,"h":0.89,"l":-0.85,"a":0.86,"b":-0.82},{"x":4.9,"h":0.9,"l":-0.87,"a":0.87,"b":-0.84},{"x":5.1,"h":0.88,"l":-0.86,"a":0.85,"b":-0.83},{"x":5.3,"h":0.87,"l":-0.88,"a":0.84,"b":-0.85},{"x":5.5,"h":0.85,"l":-0.9,"a":0.83,"b":-0.86},{"x":5.7,"h":0.89,"l":-0.87,"a":0.86,"b":-0.84},{"x":5.9,"h":0.86,"l":-0.85,"a":0.83,"b":-0.82},{"x":6.1,"h":0.88,"l":-0.88,"a":0.85,"b":-0.85},{"x":6.3,"h":1.05,"l":-0.86,"a":0.92,"b":-0.83},{"x":6.5,"h":0.84,"l":-0.9,"a":0.82,"b":-0.86},{"x":6.7,"h":0.87,"l":-0.98,"a":0.84,"b":-0.9},{"x":6.9,"h":0.86,"l":-0.88,"a":0.83,"b":-0.84},{"x":7.1,"h":0.88,"l":-0.86,"a":0.85,"b":-0.83},{"x":7.3,"h":0.86,"l":-0.85,"a":0.83,"b":-0.82},{"x":7.5,"h":0.87,"l":-0.87,"a":0.84,"b":-0.84},{"x":7.7,"h":0.9,"l":-0.84,"a":0.86,"b":-0.81},{"x":7.9,"h":0.89,"l":-0.86,"a":0.85,"b":-0.83},{"x":8.1,"h":0.88,"l":-0.85,"a":0.84,"b":-0.82},{"x":8.3,"h":0.9,"l":-0.87,"a":0.86,"b":-0.84},{"x":8.5,"h":0.88,"l":-0.84,"a":0.85,"b":-0.81},{"x":8.7,"h":0.86,"l":-0.88,"a":0.83,"b":-0.85},{"x":8.9,"h":0.85,"l":-1.12,"a":0.82,"b":-0.95},{"x":9.1,"h":0.84,"l":-0.86,"a":0.81,"b":-0.83},{"x":9.3,"h":0.86,"l":-0.88,"a":0.83,"b":-0.85},{"x":9.5,"h":0.88,"l":-0.85,"a":0.85,"b":-0.82},{"x":9.7,"h":0.9,"l":-0.87,"a":0.86,"b":-0.84},{"x":9.9,"h":0.87,"l":-0.9,"a":0.84,"b":-0.86},{"x":10.1,"h":0.88,"l":-0.88,"a":0.85,"b":-0.85},{"x":10.3,"h":1.0,"l":-0.86,"a":0.92,"b":-0.83},{"x":10.5,"h":1.08,"l":-0.87,"a":0.96,"b":-0.84},{"x":10.7,"h":1.0,"l":-0.89,"a":0.93,"b":-0.86},{"x":10.9,"h":1.14,"l":-1.08,"a":0.98,"b":-0.95},{"x":11.1,"h":0.96,"l":-0.88,"a":0.9,"b":-0.85},{"x":11.3,"h":1.0,"l":-0.86,"a":0.92,"b":-0.83},{"x":11.5,"h":0.91,"l":-0.88,"a":0.87,"b":-0.85},{"x":11.7,"h":0.89,"l":-0.87,"a":0.86,"b":-0.84},{"x":11.9,"h":0.97,"l":-0.97,"a":0.9,"b":-0.88}],
"d10":[{"x":0.1,"h":1.85,"l":-1.4,"a":1.6,"b":-1.3},{"x":0.3,"h":1.7,"l":-1.35,"a":1.5,"b":-1.3},{"x":0.5,"h":1.5,"l":-1.45,"a":1.42,"b":-1.38},{"x":0.7,"h":1.55,"l":-1.6,"a":1.45,"b":-1.45},{"x":0.9,"h":1.75,"l":-1.55,"a":1.55,"b":-1.42},{"x":1.1,"h":1.7,"l":-1.65,"a":1.5,"b":-1.48},{"x":1.3,"h":1.9,"l":-1.7,"a":1.62,"b":-1.5},{"x":1.5,"h":1.6,"l":-1.45,"a":1.45,"b":-1.38},{"x":1.7,"h":1.45,"l":-1.85,"a":1.4,"b":-1.55},{"x":1.9,"h":1.5,"l":-1.4,"a":1.44,"b":-1.35},{"x":2.1,"h":1.55,"l":-1.45,"a":1.46,"b":-1.38},{"x":2.3,"h":1.5,"l":-1.5,"a":1.42,"b":-1.42},{"x":2.5,"h":1.65,"l":-1.55,"a":1.5,"b":-1.45},{"x":2.7,"h":1.55,"l":-1.45,"a":1.45,"b":-1.38},{"x":2.9,"h":1.6,"l":-1.85,"a":1.48,"b":-1.55},{"x":3.1,"h":1.55,"l":-1.5,"a":1.45,"b":-1.42},{"x":3.3,"h":1.5,"l":-1.45,"a":1.42,"b":-1.38},{"x":3.5,"h":1.45,"l":-1.5,"a":1.4,"b":-1.42},{"x":3.7,"h":1.55,"l":-1.55,"a":1.46,"b":-1.45},{"x":3.9,"h":1.6,"l":-1.45,"a":1.5,"b":-1.38},{"x":4.1,"h":1.5,"l":-1.5,"a":1.43,"b":-1.42},{"x":4.3,"h":1.6,"l":-1.45,"a":1.48,"b":-1.38},{"x":4.5,"h":1.55,"l":-1.55,"a":1.45,"b":-1.45},{"x":4.7,"h":1.45,"l":-1.65,"a":1.4,"b":-1.5},{"x":4.9,"h":1.6,"l":-1.5,"a":1.5,"b":-1.42},{"x":5.1,"h":1.5,"l":-1.4,"a":1.44,"b":-1.35},{"x":5.3,"h":1.45,"l":-1.5,"a":1.4,"b":-1.42},{"x":5.5,"h":1.55,"l":-1.45,"a":1.46,"b":-1.38},{"x":5.7,"h":1.5,"l":-1.55,"a":1.42,"b":-1.45},{"x":5.9,"h":1.45,"l":-1.6,"a":1.4,"b":-1.48},{"x":6.1,"h":1.55,"l":-1.9,"a":1.45,"b":-1.6},{"x":6.3,"h":1.6,"l":-1.7,"a":1.5,"b":-1.52},{"x":6.5,"h":1.75,"l":-1.55,"a":1.55,"b":-1.45},{"x":6.7,"h":1.55,"l":-1.6,"a":1.45,"b":-1.48},{"x":6.9,"h":1.45,"l":-1.7,"a":1.4,"b":-1.52},{"x":7.1,"h":1.5,"l":-1.55,"a":1.44,"b":-1.45},{"x":7.3,"h":1.6,"l":-1.5,"a":1.5,"b":-1.42},{"x":7.5,"h":1.65,"l":-1.55,"a":1.52,"b":-1.45},{"x":7.7,"h":1.9,"l":-1.5,"a":1.65,"b":-1.42},{"x":7.9,"h":1.7,"l":-1.45,"a":1.55,"b":-1.38},{"x":8.1,"h":1.6,"l":-1.5,"a":1.5,"b":-1.42},{"x":8.3,"h":1.65,"l":-1.55,"a":1.52,"b":-1.45},{"x":8.5,"h":1.55,"l":-1.45,"a":1.46,"b":-1.38},{"x":8.7,"h":1.5,"l":-1.6,"a":1.44,"b":-1.48},{"x":8.9,"h":1.55,"l":-1.5,"a":1.46,"b":-1.42},{"x":9.1,"h":1.6,"l":-1.55,"a":1.5,"b":-1.45},{"x":9.3,"h":1.75,"l":-1.45,"a":1.55,"b":-1.38},{"x":9.5,"h":1.6,"l":-1.65,"a":1.5,"b":-1.5},{"x":9.7,"h":1.55,"l":-1.75,"a":1.46,"b":-1.55},{"x":9.9,"h":1.5,"l":-1.55,"a":1.44,"b":-1.45},{"x":10.1,"h":1.6,"l":-1.5,"a":1.5,"b":-1.42},{"x":10.3,"h":1.75,"l":-1.6,"a":1.55,"b":-1.48},{"x":10.5,"h":1.6,"l":-1.8,"a":1.5,"b":-1.55},{"x":10.7,"h":1.7,"l":-1.65,"a":1.55,"b":-1.5},{"x":10.9,"h":1.8,"l":-2.0,"a":1.6,"b":-1.65},{"x":11.1,"h":1.75,"l":-1.6,"a":1.55,"b":-1.5},{"x":11.3,"h":1.85,"l":-1.7,"a":1.62,"b":-1.55},{"x":11.5,"h":1.8,"l":-1.85,"a":1.6,"b":-1.6},{"x":11.7,"h":1.75,"l":-1.6,"a":1.55,"b":-1.5},{"x":11.9,"h":1.2,"l":-1.25,"a":1.15,"b":-1.2}]
},
"concat":[
{"width":768,"height":264,"resolve":{"axis":{"x":"independent","y":"independent"}},"layer":[
{"data":{"name":"d1"},"mark":{"type":"rule","xOffset":-3.2,"color":"#0A14D6"},"encoding":{"x":{"field":"x","type":"quantitative","scale":{"domain":[0,12],"nice":false,"zero":false},"axis":{"values":[0,5,10],"format":"d"},"title":"Sampling points"},"y":{"field":"h","type":"quantitative","scale":{"domain":[-0.22,0.5],"nice":false,"zero":false},"axis":{"values":[-0.2,0,0.2,0.4]},"title":"Acceleration (m/s²)"},"y2":{"field":"l"}}},
{"data":{"name":"d1"},"mark":{"type":"rule","xOffset":3.2,"color":"#0A14D6"},"encoding":{"x":{"field":"x","type":"quantitative","axis":{"orient":"top","values":[0,5,10],"labels":false,"title":null}},"y":{"field":"a","type":"quantitative","axis":{"orient":"right","values":[-0.2,0,0.2,0.4],"labels":false,"title":null}},"y2":{"field":"b"}}},
{"data":{"values":[{}]},"mark":{"type":"text","font":"Liberation Sans","fontSize":52,"align":"center","dy":-16,"color":"#000000"},"encoding":{"x":{"datum":6,"axis":null},"y":{"datum":0.5,"axis":null},"text":{"value":"Fault scenario: 1"}}},
{"data":{"values":[{}]},"mark":{"type":"text","font":"Liberation Serif","fontSize":94,"align":"center","dy":-15,"color":"#000000"},"encoding":{"x":{"datum":10.62,"axis":null},"y":{"datum":0.5,"axis":null},"text":{"value":"(a)"}}},
{"data":{"values":[{}]},"mark":{"type":"text","font":"Liberation Sans","fontSize":44,"align":"right","dx":-18,"dy":119,"color":"#262626"},"encoding":{"x":{"datum":12,"axis":null},"y":{"datum":-0.22,"axis":null},"text":{"value":"×10"}}},
{"data":{"values":[{}]},"mark":{"type":"text","font":"Liberation Sans","fontSize":30,"align":"right","dy":98,"color":"#262626"},"encoding":{"x":{"datum":12,"axis":null},"y":{"datum":-0.22,"axis":null},"text":{"value":"4"}}}]},
{"width":768,"height":264,"resolve":{"axis":{"x":"independent","y":"independent"}},"layer":[
{"data":{"name":"d2"},"mark":{"type":"rule","xOffset":-3.2,"color":"#C84EF5"},"encoding":{"x":{"field":"x","type":"quantitative","scale":{"domain":[0,12],"nice":false,"zero":false},"axis":{"values":[0,5,10],"format":"d"},"title":"Sampling points"},"y":{"field":"h","type":"quantitative","scale":{"domain":[-0.5,0.5],"nice":false,"zero":false},"axis":{"values":[-0.5,0,0.5]},"title":"Acceleration (m/s²)"},"y2":{"field":"l"}}},
{"data":{"name":"d2"},"mark":{"type":"rule","xOffset":3.2,"color":"#C84EF5"},"encoding":{"x":{"field":"x","type":"quantitative","axis":{"orient":"top","values":[0,5,10],"labels":false,"title":null}},"y":{"field":"a","type":"quantitative","axis":{"orient":"right","values":[-0.5,0,0.5],"labels":false,"title":null}},"y2":{"field":"b"}}},
{"data":{"values":[{}]},"mark":{"type":"text","font":"Liberation Sans","fontSize":52,"align":"center","dy":-16,"color":"#000000"},"encoding":{"x":{"datum":6,"axis":null},"y":{"datum":0.5,"axis":null},"text":{"value":"Fault scenario: 2"}}},
{"data":{"values":[{}]},"mark":{"type":"text","font":"Liberation Serif","fontSize":94,"align":"center","dy":-15,"color":"#000000"},"encoding":{"x":{"datum":10.64,"axis":null},"y":{"datum":0.5,"axis":null},"text":{"value":"(b)"}}},
{"data":{"values":[{}]},"mark":{"type":"text","font":"Liberation Sans","fontSize":44,"align":"right","dx":-18,"dy":119,"color":"#262626"},"encoding":{"x":{"datum":12,"axis":null},"y":{"datum":-0.5,"axis":null},"text":{"value":"×10"}}},
{"data":{"values":[{}]},"mark":{"type":"text","font":"Liberation Sans","fontSize":30,"align":"right","dy":98,"color":"#262626"},"encoding":{"x":{"datum":12,"axis":null},"y":{"datum":-0.5,"axis":null},"text":{"value":"4"}}}]},
{"width":768,"height":264,"resolve":{"axis":{"x":"independent","y":"independent"}},"layer":[
{"data":{"name":"d3"},"mark":{"type":"rule","xOffset":-3.2,"color":"#007060"},"encoding":{"x":{"field":"x","type":"quantitative","scale":{"domain":[0,12],"nice":false,"zero":false},"axis":{"values":[0,5,10],"format":"d"},"title":"Sampling points"},"y":{"field":"h","type":"quantitative","scale":{"domain":[-1.12,1.0],"nice":false,"zero":false},"axis":{"values":[-1,-0.5,0,0.5]},"title":"Acceleration (m/s²)"},"y2":{"field":"l"}}},
{"data":{"name":"d3"},"mark":{"type":"rule","xOffset":3.2,"color":"#007060"},"encoding":{"x":{"field":"x","type":"quantitative","axis":{"orient":"top","values":[0,5,10],"labels":false,"title":null}},"y":{"field":"a","type":"quantitative","axis":{"orient":"right","values":[-1,-0.5,0,0.5],"labels":false,"title":null}},"y2":{"field":"b"}}},
{"data":{"values":[{}]},"mark":{"type":"text","font":"Liberation Sans","fontSize":52,"align":"center","dy":-16,"color":"#000000"},"encoding":{"x":{"datum":6,"axis":null},"y":{"datum":1.0,"axis":null},"text":{"value":"Fault scenario: 3"}}},
{"data":{"values":[{}]},"mark":{"type":"text","font":"Liberation Serif","fontSize":94,"align":"center","dy":-15,"color":"#000000"},"encoding":{"x":{"datum":10.4,"axis":null},"y":{"datum":1.0,"axis":null},"text":{"value":"(c)"}}},
{"data":{"values":[{}]},"mark":{"type":"text","font":"Liberation Sans","fontSize":44,"align":"right","dx":-18,"dy":119,"color":"#262626"},"encoding":{"x":{"datum":12,"axis":null},"y":{"datum":-1.12,"axis":null},"text":{"value":"×10"}}},
{"data":{"values":[{}]},"mark":{"type":"text","font":"Liberation Sans","fontSize":30,"align":"right","dy":98,"color":"#262626"},"encoding":{"x":{"datum":12,"axis":null},"y":{"datum":-1.12,"axis":null},"text":{"value":"4"}}}]},
{"width":768,"height":264,"resolve":{"axis":{"x":"independent","y":"independent"}},"layer":[
{"data":{"name":"d4"},"mark":{"type":"rule","xOffset":-3.2,"color":"#C5CC00"},"encoding":{"x":{"field":"x","type":"quantitative","scale":{"domain":[0,12],"nice":false,"zero":false},"axis":{"values":[0,5,10],"format":"d"},"title":"Sampling points"},"y":{"field":"h","type":"quantitative","scale":{"domain":[-1.0,1.13],"nice":false,"zero":false},"axis":{"values":[-1,0,1]},"title":"Acceleration (m/s²)"},"y2":{"field":"l"}}},
{"data":{"name":"d4"},"mark":{"type":"rule","xOffset":3.2,"color":"#C5CC00"},"encoding":{"x":{"field":"x","type":"quantitative","axis":{"orient":"top","values":[0,5,10],"labels":false,"title":null}},"y":{"field":"a","type":"quantitative","axis":{"orient":"right","values":[-1,0,1],"labels":false,"title":null}},"y2":{"field":"b"}}},
{"data":{"values":[{}]},"mark":{"type":"text","font":"Liberation Sans","fontSize":52,"align":"center","dy":-16,"color":"#000000"},"encoding":{"x":{"datum":6,"axis":null},"y":{"datum":1.13,"axis":null},"text":{"value":"Fault scenario: 4"}}},
{"data":{"values":[{}]},"mark":{"type":"text","font":"Liberation Serif","fontSize":94,"align":"center","dy":-15,"color":"#000000"},"encoding":{"x":{"datum":10.62,"axis":null},"y":{"datum":1.13,"axis":null},"text":{"value":"(d)"}}},
{"data":{"values":[{}]},"mark":{"type":"text","font":"Liberation Sans","fontSize":44,"align":"right","dx":-18,"dy":119,"color":"#262626"},"encoding":{"x":{"datum":12,"axis":null},"y":{"datum":-1.0,"axis":null},"text":{"value":"×10"}}},
{"data":{"values":[{}]},"mark":{"type":"text","font":"Liberation Sans","fontSize":30,"align":"right","dy":98,"color":"#262626"},"encoding":{"x":{"datum":12,"axis":null},"y":{"datum":-1.0,"axis":null},"text":{"value":"4"}}}]},
{"width":768,"height":264,"resolve":{"axis":{"x":"independent","y":"independent"}},"layer":[
{"data":{"name":"d5"},"mark":{"type":"rule","xOffset":-3.2,"color":"#8072A8"},"encoding":{"x":{"field":"x","type":"quantitative","scale":{"domain":[0,12],"nice":false,"zero":false},"axis":{"values":[0,5,10],"format":"d"},"title":"Sampling points"},"y":{"field":"h","type":"quantitative","scale":{"domain":[-0.46,0.64],"nice":false,"zero":false},"axis":{"values":[-0.4,-0.2,0,0.2,0.4,0.6]},"title":"Acceleration (m/s²)"},"y2":{"field":"l"}}},
{"data":{"name":"d5"},"mark":{"type":"rule","xOffset":3.2,"color":"#8072A8"},"encoding":{"x":{"field":"x","type":"quantitative","axis":{"orient":"top","values":[0,5,10],"labels":false,"title":null}},"y":{"field":"a","type":"quantitative","axis":{"orient":"right","values":[-0.4,-0.2,0,0.2,0.4,0.6],"labels":false,"title":null}},"y2":{"field":"b"}}},
{"data":{"values":[{}]},"mark":{"type":"text","font":"Liberation Sans","fontSize":52,"align":"center","dy":-16,"color":"#000000"},"encoding":{"x":{"datum":6,"axis":null},"y":{"datum":0.64,"axis":null},"text":{"value":"Fault scenario: 5"}}},
{"data":{"values":[{}]},"mark":{"type":"text","font":"Liberation Serif","fontSize":94,"align":"center","dy":-15,"color":"#000000"},"encoding":{"x":{"datum":10.64,"axis":null},"y":{"datum":0.64,"axis":null},"text":{"value":"(e)"}}},
{"data":{"values":[{}]},"mark":{"type":"text","font":"Liberation Sans","fontSize":44,"align":"right","dx":-18,"dy":119,"color":"#262626"},"encoding":{"x":{"datum":12,"axis":null},"y":{"datum":-0.46,"axis":null},"text":{"value":"×10"}}},
{"data":{"values":[{}]},"mark":{"type":"text","font":"Liberation Sans","fontSize":30,"align":"right","dy":98,"color":"#262626"},"encoding":{"x":{"datum":12,"axis":null},"y":{"datum":-0.46,"axis":null},"text":{"value":"4"}}}]},
{"width":768,"height":264,"resolve":{"axis":{"x":"independent","y":"independent"}},"layer":[
{"data":{"name":"d6"},"mark":{"type":"rule","xOffset":-3.2,"color":"#B4C13C"},"encoding":{"x":{"field":"x","type":"quantitative","scale":{"domain":[0,12],"nice":false,"zero":false},"axis":{"values":[0,5,10],"format":"d"},"title":"Sampling points"},"y":{"field":"h","type":"quantitative","scale":{"domain":[-1.0,0.64],"nice":false,"zero":false},"axis":{"values":[-1,-0.5,0,0.5]},"title":"Acceleration (m/s²)"},"y2":{"field":"l"}}},
{"data":{"name":"d6"},"mark":{"type":"rule","xOffset":3.2,"color":"#B4C13C"},"encoding":{"x":{"field":"x","type":"quantitative","axis":{"orient":"top","values":[0,5,10],"labels":false,"title":null}},"y":{"field":"a","type":"quantitative","axis":{"orient":"right","values":[-1,-0.5,0,0.5],"labels":false,"title":null}},"y2":{"field":"b"}}},
{"data":{"values":[{}]},"mark":{"type":"text","font":"Liberation Sans","fontSize":52,"align":"center","dy":-16,"color":"#000000"},"encoding":{"x":{"datum":6,"axis":null},"y":{"datum":0.64,"axis":null},"text":{"value":"Fault scenario: 6"}}},
{"data":{"values":[{}]},"mark":{"type":"text","font":"Liberation Serif","fontSize":94,"align":"center","dy":-15,"color":"#000000"},"encoding":{"x":{"datum":10.3,"axis":null},"y":{"datum":0.64,"axis":null},"text":{"value":"(f)"}}},
{"data":{"values":[{}]},"mark":{"type":"text","font":"Liberation Sans","fontSize":44,"align":"right","dx":-18,"dy":119,"color":"#262626"},"encoding":{"x":{"datum":12,"axis":null},"y":{"datum":-1.0,"axis":null},"text":{"value":"×10"}}},
{"data":{"values":[{}]},"mark":{"type":"text","font":"Liberation Sans","fontSize":30,"align":"right","dy":98,"color":"#262626"},"encoding":{"x":{"datum":12,"axis":null},"y":{"datum":-1.0,"axis":null},"text":{"value":"4"}}}]},
{"width":768,"height":264,"resolve":{"axis":{"x":"independent","y":"independent"}},"layer":[
{"data":{"name":"d7"},"mark":{"type":"rule","xOffset":-3.2,"color":"#B0A800"},"encoding":{"x":{"field":"x","type":"quantitative","scale":{"domain":[0,12],"nice":false,"zero":false},"axis":{"values":[0,5,10],"format":"d"},"title":"Sampling points"},"y":{"field":"h","type":"quantitative","scale":{"domain":[-0.47,0.55],"nice":false,"zero":false},"axis":{"values":[-0.4,-0.2,0,0.2,0.4]},"title":"Acceleration (m/s²)"},"y2":{"field":"l"}}},
{"data":{"name":"d7"},"mark":{"type":"rule","xOffset":3.2,"color":"#B0A800"},"encoding":{"x":{"field":"x","type":"quantitative","axis":{"orient":"top","values":[0,5,10],"labels":false,"title":null}},"y":{"field":"a","type":"quantitative","axis":{"orient":"right","values":[-0.4,-0.2,0,0.2,0.4],"labels":false,"title":null}},"y2":{"field":"b"}}},
{"data":{"values":[{}]},"mark":{"type":"text","font":"Liberation Sans","fontSize":52,"align":"center","dy":-16,"color":"#000000"},"encoding":{"x":{"datum":6,"axis":null},"y":{"datum":0.55,"axis":null},"text":{"value":"Fault scenario: 7"}}},
{"data":{"values":[{}]},"mark":{"type":"text","font":"Liberation Serif","fontSize":94,"align":"center","dy":-15,"color":"#000000"},"encoding":{"x":{"datum":10.62,"axis":null},"y":{"datum":0.55,"axis":null},"text":{"value":"(g)"}}},
{"data":{"values":[{}]},"mark":{"type":"text","font":"Liberation Sans","fontSize":44,"align":"right","dx":-18,"dy":119,"color":"#262626"},"encoding":{"x":{"datum":12,"axis":null},"y":{"datum":-0.47,"axis":null},"text":{"value":"×10"}}},
{"data":{"values":[{}]},"mark":{"type":"text","font":"Liberation Sans","fontSize":30,"align":"right","dy":98,"color":"#262626"},"encoding":{"x":{"datum":12,"axis":null},"y":{"datum":-0.47,"axis":null},"text":{"value":"4"}}}]},
{"width":768,"height":264,"resolve":{"axis":{"x":"independent","y":"independent"}},"layer":[
{"data":{"name":"d8"},"mark":{"type":"rule","xOffset":-3.2,"color":"#0080FF"},"encoding":{"x":{"field":"x","type":"quantitative","scale":{"domain":[0,12],"nice":false,"zero":false},"axis":{"values":[0,5,10],"format":"d"},"title":"Sampling points"},"y":{"field":"h","type":"quantitative","scale":{"domain":[-0.54,0.64],"nice":false,"zero":false},"axis":{"values":[-0.5,0,0.5]},"title":"Acceleration (m/s²)"},"y2":{"field":"l"}}},
{"data":{"name":"d8"},"mark":{"type":"rule","xOffset":3.2,"color":"#0080FF"},"encoding":{"x":{"field":"x","type":"quantitative","axis":{"orient":"top","values":[0,5,10],"labels":false,"title":null}},"y":{"field":"a","type":"quantitative","axis":{"orient":"right","values":[-0.5,0,0.5],"labels":false,"title":null}},"y2":{"field":"b"}}},
{"data":{"values":[{}]},"mark":{"type":"text","font":"Liberation Sans","fontSize":52,"align":"center","dy":-16,"color":"#000000"},"encoding":{"x":{"datum":6,"axis":null},"y":{"datum":0.64,"axis":null},"text":{"value":"Fault scenario: 8"}}},
{"data":{"values":[{}]},"mark":{"type":"text","font":"Liberation Serif","fontSize":94,"align":"center","dy":-15,"color":"#000000"},"encoding":{"x":{"datum":10.64,"axis":null},"y":{"datum":0.64,"axis":null},"text":{"value":"(h)"}}},
{"data":{"values":[{}]},"mark":{"type":"text","font":"Liberation Sans","fontSize":44,"align":"right","dx":-18,"dy":119,"color":"#262626"},"encoding":{"x":{"datum":12,"axis":null},"y":{"datum":-0.54,"axis":null},"text":{"value":"×10"}}},
{"data":{"values":[{}]},"mark":{"type":"text","font":"Liberation Sans","fontSize":30,"align":"right","dy":98,"color":"#262626"},"encoding":{"x":{"datum":12,"axis":null},"y":{"datum":-0.54,"axis":null},"text":{"value":"4"}}}]},
{"width":768,"height":264,"resolve":{"axis":{"x":"independent","y":"independent"}},"layer":[
{"data":{"name":"d9"},"mark":{"type":"rule","xOffset":-3.2,"color":"#10962A"},"encoding":{"x":{"field":"x","type":"quantitative","scale":{"domain":[0,12],"nice":false,"zero":false},"axis":{"values":[0,5,10],"format":"d"},"title":"Sampling points"},"y":{"field":"h","type":"quantitative","scale":{"domain":[-1.12,1.16],"nice":false,"zero":false},"axis":{"values":[-1,0,1]},"title":"Acceleration (m/s²)"},"y2":{"field":"l"}}},
{"data":{"name":"d9"},"mark":{"type":"rule","xOffset":3.2,"color":"#10962A"},"encoding":{"x":{"field":"x","type":"quantitative","axis":{"orient":"top","values":[0,5,10],"labels":false,"title":null}},"y":{"field":"a","type":"quantitative","axis":{"orient":"right","values":[-1,0,1],"labels":false,"title":null}},"y2":{"field":"b"}}},
{"data":{"values":[{}]},"mark":{"type":"text","font":"Liberation Sans","fontSize":52,"align":"center","dy":-16,"color":"#000000"},"encoding":{"x":{"datum":6,"axis":null},"y":{"datum":1.16,"axis":null},"text":{"value":"Fault scenario: 9"}}},
{"data":{"values":[{}]},"mark":{"type":"text","font":"Liberation Serif","fontSize":94,"align":"center","dy":-15,"color":"#000000"},"encoding":{"x":{"datum":10.2,"axis":null},"y":{"datum":1.16,"axis":null},"text":{"value":"(i)"}}},
{"data":{"values":[{}]},"mark":{"type":"text","font":"Liberation Sans","fontSize":44,"align":"right","dx":-18,"dy":119,"color":"#262626"},"encoding":{"x":{"datum":12,"axis":null},"y":{"datum":-1.12,"axis":null},"text":{"value":"×10"}}},
{"data":{"values":[{}]},"mark":{"type":"text","font":"Liberation Sans","fontSize":30,"align":"right","dy":98,"color":"#262626"},"encoding":{"x":{"datum":12,"axis":null},"y":{"datum":-1.12,"axis":null},"text":{"value":"4"}}}]},
{"width":768,"height":264,"resolve":{"axis":{"x":"independent","y":"independent"}},"layer":[
{"data":{"name":"d10"},"mark":{"type":"rule","xOffset":-3.2,"color":"#DA3F82"},"encoding":{"x":{"field":"x","type":"quantitative","scale":{"domain":[0,12],"nice":false,"zero":false},"axis":{"values":[0,5,10],"format":"d"},"title":"Sampling points"},"y":{"field":"h","type":"quantitative","scale":{"domain":[-2,2.06],"nice":false,"zero":false},"axis":{"values":[-2,0,2]},"title":"Acceleration (m/s²)"},"y2":{"field":"l"}}},
{"data":{"name":"d10"},"mark":{"type":"rule","xOffset":3.2,"color":"#DA3F82"},"encoding":{"x":{"field":"x","type":"quantitative","axis":{"orient":"top","values":[0,5,10],"labels":false,"title":null}},"y":{"field":"a","type":"quantitative","axis":{"orient":"right","values":[-2,0,2],"labels":false,"title":null}},"y2":{"field":"b"}}},
{"data":{"values":[{}]},"mark":{"type":"text","font":"Liberation Sans","fontSize":52,"align":"center","dy":-16,"color":"#000000"},"encoding":{"x":{"datum":6,"axis":null},"y":{"datum":2.06,"axis":null},"text":{"value":"Fault scenario: 10"}}},
{"data":{"values":[{}]},"mark":{"type":"text","font":"Liberation Serif","fontSize":94,"align":"center","dy":-15,"color":"#000000"},"encoding":{"x":{"datum":10.47,"axis":null},"y":{"datum":2.06,"axis":null},"text":{"value":"(j)"}}},
{"data":{"values":[{}]},"mark":{"type":"text","font":"Liberation Sans","fontSize":44,"align":"right","dx":-18,"dy":119,"color":"#262626"},"encoding":{"x":{"datum":12,"axis":null},"y":{"datum":-2,"axis":null},"text":{"value":"×10"}}},
{"data":{"values":[{}]},"mark":{"type":"text","font":"Liberation Sans","fontSize":30,"align":"right","dy":98,"color":"#262626"},"encoding":{"x":{"datum":12,"axis":null},"y":{"datum":-2,"axis":null},"text":{"value":"4"}}}]}
]
}
